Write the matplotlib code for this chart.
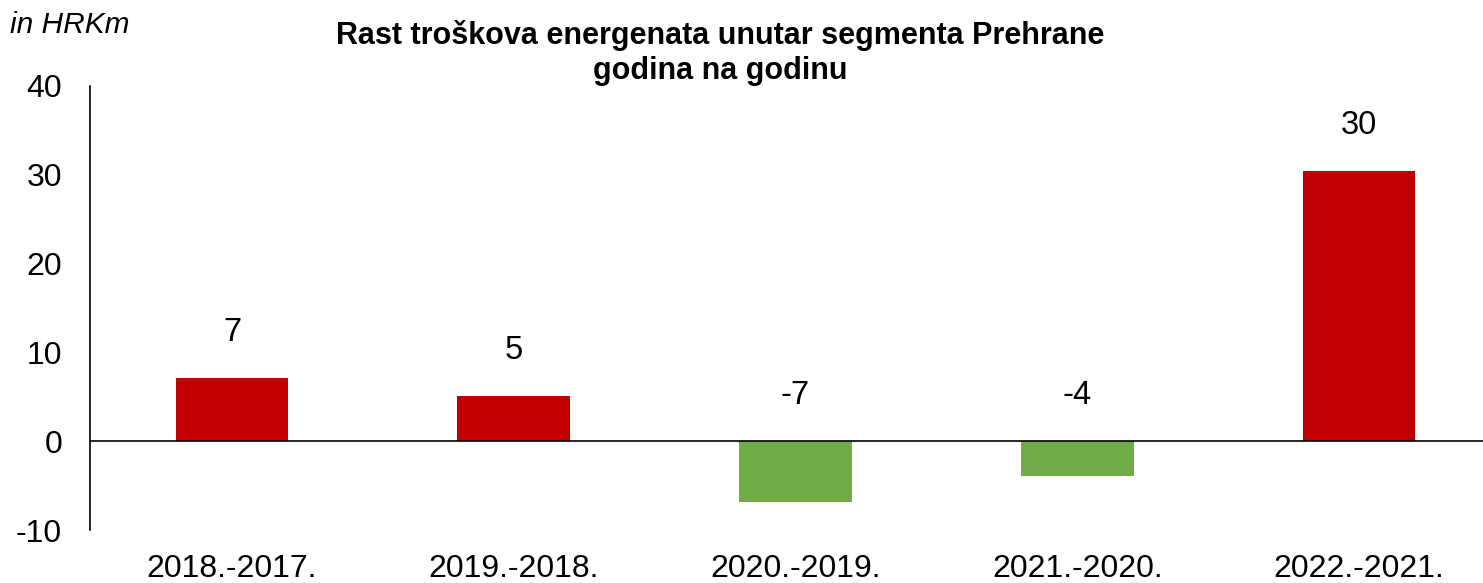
import matplotlib
matplotlib.use("Agg")
import matplotlib.pyplot as plt

plt.rcParams['font.family'] = ['Liberation Sans', 'DejaVu Sans']

categories = ["2018.-2017.", "2019.-2018.", "2020.-2019.", "2021.-2020.", "2022.-2021."]
values = [7.1, 5.1, -6.8, -3.9, 30.4]
labels = ["7", "5", "-7", "-4", "30"]
yticks = [-10, 0, 10, 20, 30, 40]

pos_color = "#C00000"
neg_color = "#70AD47"

fig = plt.figure(figsize=(14.83, 5.83), dpi=100)
ax = fig.add_axes([90/1483, 53/583, 1 - 90/1483, (530-86)/583])

x = list(range(len(categories)))
colors = [pos_color if v >= 0 else neg_color for v in values]
ax.bar(x, values, width=0.40, color=colors, zorder=2)
ax.axhline(0, color="black", linewidth=1.2, zorder=3)

for xi, v, lab in zip(x, values, labels):
    ax.annotate(lab, xy=(xi, max(v, 0)), xytext=(0, 33), textcoords="offset points",
                ha="center", va="center", fontsize=23.5)

ax.set_ylim(-10, 40)
ax.set_xlim(-0.504, 4.44)
ax.set_yticks(yticks)
ax.set_yticklabels([str(t) for t in yticks], fontsize=23)
ax.set_xticks(x)
ax.set_xticklabels(categories, fontsize=23)
ax.tick_params(axis="y", length=0, pad=20)
ax.tick_params(axis="x", length=0, pad=17)

for s in ["top", "right", "bottom"]:
    ax.spines[s].set_visible(False)
ax.spines["left"].set_linewidth(1.2)

fig.text(720/1483, 1 - 53/583, "Rast troškova energenata unutar segmenta Prehrane\ngodina na godinu",
         ha="center", va="center", fontsize=22, fontweight="bold", linespacing=1.2)
fig.text(10/1483, 1 - 25/583, "in HRKm", ha="left", va="center", fontsize=21.5, style="italic")

fig.savefig("out.png", dpi=100)
